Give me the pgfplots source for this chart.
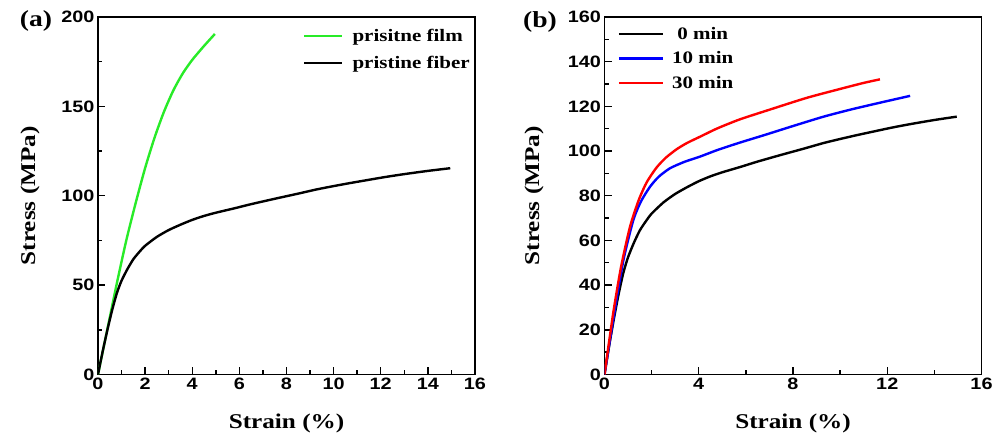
\documentclass[border=0pt]{standalone}
\usepackage{fontspec}
\setmainfont{Liberation Serif}
\setsansfont{Liberation Sans}
\newfontfamily\tickfont[FakeStretch=1.2]{Liberation Sans}
\newfontfamily\lblfont[FakeStretch=1.2]{Liberation Serif}
\usepackage{pgfplots}
\pgfplotsset{compat=1.18}
\definecolor{filmgreen}{RGB}{40,235,40}

\pgfplotstableread{
x y
0 0
0.2 13
0.4 25
0.6 36
0.8 45.5
1.0 52.5
1.25 59
1.5 64.5
1.75 68.5
2.0 72
2.5 77
3.0 80.8
3.5 83.8
4.0 86.5
4.5 88.7
5.0 90.5
5.8 93
6.5 95.3
7.5 98.3
8.5 101.2
9.3 103.6
10.0 105.4
10.7 107.1
11.4 108.7
12.2 110.5
13.0 112.1
14.0 113.9
14.95 115.4
}\fiber

\pgfplotstableread{
x y
0 0
0.4 25.5
0.8 51
1.2 75
1.6 96
2.0 115.5
2.4 132.5
2.8 147
3.2 159
3.6 168.5
4.0 176
4.5 183.8
4.96 190.5
}\film

\pgfplotstableread{
x y
0 0
0.37 24.5
0.8 51
1.22 69
1.55 77.5
1.93 84
2.3 88.5
2.78 92.3
3.4 95.2
4.05 97.5
4.8 100.5
5.75 103.8
6.8 107.2
8.0 111.2
9.3 115.4
10.5 118.7
11.8 121.9
12.97 124.7
}\tenmin

\pgfplotstableread{
x y
0 0
0.37 27.5
0.7 48
1.08 66
1.45 78
1.79 86
2.2 92.5
2.6 97
3.06 100.8
3.5 103.6
4.05 106.4
4.8 110.2
5.75 114.2
7.0 118.5
8.58 123.8
10.0 127.8
11.0 130.5
11.69 132.1
}\thirtymin

\pgfplotsset{
  panel/.style={
    scale only axis, width=377pt, height=357.5pt,
    axis line style={line width=1.8pt},
    every tick/.style={line width=1.4pt, black},
    tick align=inside,
    major tick length=7pt, minor tick length=4pt,
    xtick pos=bottom, ytick pos=left,
    tick label style={font=\fontsize{16.5}{16.5}\selectfont\tickfont\bfseries},
    /pgf/number format/assume math mode=true,
    label style={font=\fontsize{21}{21}\selectfont\lblfont\bfseries},
    xlabel style={at={(axis description cs:0.5,-0.137)}, anchor=center},
    xmin=0, xmax=16,
    legend style={draw=none, fill=none, font=\fontsize{17.5}{17.5}\selectfont\lblfont\bfseries},
    legend cell align=left,
  },
  curve/.style={line width=2.4pt, smooth, tension=0.4},
}

\begin{document}
\begin{tikzpicture}
\path[use as bounding box] (0pt,0pt) rectangle (1005pt,438pt);
\coordinate (PA) at (98pt,63.5pt);
\coordinate (PB) at (604.5pt,63.5pt);

\begin{axis}[panel, at={(PA)}, anchor=south west,
  ymin=0, ymax=200,
  xtick={0,2,...,16}, minor xtick={1,3,...,15},
  ytick={0,50,...,200}, minor ytick={25,75,...,175},
  xlabel={Strain (\%)}, ylabel={Stress (MPa)},
  ylabel style={at={(axis description cs:-0.18,0.5)}, anchor=center},
  legend style={at={(1,1)}, anchor=north east, yshift=-8pt, row sep=9pt},
  legend image code/.code={\draw[#1, line width=2.4pt] (0pt,0pt) -- (38pt,0pt); \path (45pt,0pt);},
]
\addplot[curve, filmgreen] table {\film};
\addlegendentry{prisitne film}
\addplot[curve, black] table {\fiber};
\addlegendentry{pristine fiber}
\end{axis}

\begin{axis}[panel, at={(PB)}, anchor=south west,
  ymin=0, ymax=160,
  xtick={0,4,...,16}, minor xtick={2,6,...,14},
  ytick={0,20,...,160}, minor ytick={10,30,...,150},
  xlabel={Strain (\%)}, ylabel={Stress (MPa)},
  ylabel style={at={(axis description cs:-0.187,0.5)}, anchor=center},
  legend style={at={(0,1)}, anchor=north west, xshift=10pt, yshift=-6pt, row sep=7pt},
  legend cell align=center,
  legend image code/.code={\draw[#1, line width=2.4pt] (0pt,0pt) -- (44pt,0pt); \path (50pt,0pt);},
]
\addplot[curve, black] table {\fiber};
\addlegendentry{0 min}
\addplot[curve, blue] table {\tenmin};
\addlegendentry{10 min}
\addplot[curve, red] table {\thirtymin};
\addlegendentry{30 min}
\end{axis}

\node[font=\fontsize{23}{23}\selectfont\lblfont\bfseries] at (36pt,417pt) {(a)};
\node[font=\fontsize{23}{23}\selectfont\lblfont\bfseries] at (540pt,416pt) {(b)};
\end{tikzpicture}
\end{document}
